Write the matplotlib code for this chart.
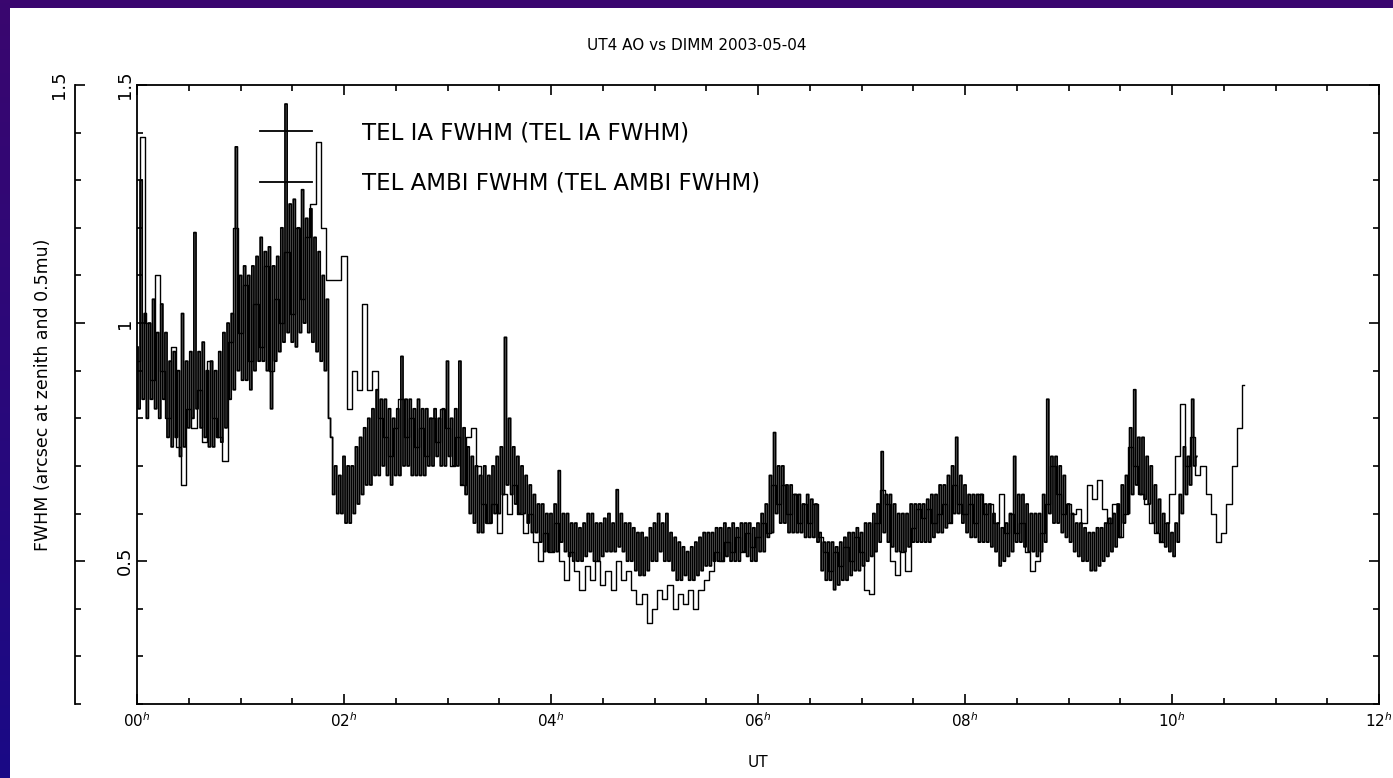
import numpy as np
import matplotlib
matplotlib.use("Agg")
import matplotlib.pyplot as plt
from matplotlib.ticker import MultipleLocator, FixedLocator, FixedFormatter
from matplotlib.colors import LinearSegmentedColormap

# ---------------- data ----------------
title = "UT4 AO vs DIMM 2003-05-04"
xlabel = "UT"
ylabel = "FWHM (arcsec at zenith and 0.5mu)"
series_names = ["TEL IA FWHM (TEL IA FWHM)", "TEL AMBI FWHM (TEL AMBI FWHM)"]

x_major_hours = [0, 2, 4, 6, 8, 10, 12]
x_tick_labels = ["00$^{h}$", "02$^{h}$", "04$^{h}$", "06$^{h}$", "08$^{h}$", "10$^{h}$", "12$^{h}$"]
y_major = [0.5, 1.0, 1.5]
y_tick_labels = ["0.5", "1", "1.5"]

# TEL IA FWHM, sampled every 0.02 h starting at 00h (one row = 0.4 h)
ia_step_h = 0.02
ia_fwhm = [
    0.95, 0.82, 1.30, 0.84, 1.02, 0.80, 1.00, 0.84, 1.05, 0.82, 0.98, 0.80, 1.04, 0.84, 0.98, 0.76, 0.92, 0.74, 0.94, 0.76,
    0.90, 0.72, 1.02, 0.74, 0.92, 0.78, 0.94, 0.80, 1.19, 0.82, 0.94, 0.78, 0.96, 0.76, 0.90, 0.74, 0.92, 0.74, 0.90, 0.76,
    0.94, 0.75, 0.98, 0.78, 1.00, 0.84, 1.02, 0.86, 1.37, 0.90, 1.10, 0.88, 1.12, 0.88, 1.10, 0.86, 1.12, 0.90, 1.14, 0.92,
    1.18, 0.92, 1.15, 0.90, 1.16, 0.82, 1.12, 0.92, 1.14, 0.94, 1.20, 0.96, 1.46, 0.98, 1.25, 0.96, 1.26, 0.95, 1.20, 0.98,
    1.28, 1.00, 1.22, 0.98, 1.24, 0.96, 1.18, 0.94, 1.15, 0.92, 1.10, 0.90, 1.05, 0.80, 0.76, 0.64, 0.70, 0.60, 0.68, 0.60,
    0.72, 0.58, 0.70, 0.58, 0.70, 0.60, 0.74, 0.62, 0.76, 0.64, 0.78, 0.66, 0.80, 0.66, 0.82, 0.68, 0.86, 0.68, 0.84, 0.70,
    0.84, 0.68, 0.82, 0.66, 0.80, 0.68, 0.82, 0.68, 0.93, 0.70, 0.84, 0.70, 0.84, 0.68, 0.82, 0.68, 0.84, 0.68, 0.82, 0.68,
    0.82, 0.70, 0.80, 0.70, 0.82, 0.72, 0.80, 0.70, 0.82, 0.70, 0.92, 0.72, 0.80, 0.70, 0.82, 0.70, 0.92, 0.66, 0.78, 0.64,
    0.74, 0.60, 0.72, 0.58, 0.70, 0.56, 0.68, 0.56, 0.70, 0.58, 0.68, 0.58, 0.70, 0.60, 0.72, 0.60, 0.74, 0.64, 0.97, 0.66,
    0.80, 0.64, 0.74, 0.62, 0.72, 0.60, 0.70, 0.60, 0.68, 0.58, 0.66, 0.56, 0.64, 0.56, 0.62, 0.54, 0.62, 0.52, 0.60, 0.52,
    0.60, 0.52, 0.62, 0.52, 0.69, 0.54, 0.60, 0.52, 0.60, 0.51, 0.58, 0.50, 0.58, 0.50, 0.57, 0.50, 0.58, 0.51, 0.60, 0.52,
    0.60, 0.50, 0.58, 0.50, 0.58, 0.51, 0.59, 0.52, 0.60, 0.52, 0.58, 0.52, 0.65, 0.53, 0.60, 0.52, 0.58, 0.50, 0.58, 0.50,
    0.57, 0.48, 0.56, 0.47, 0.56, 0.47, 0.55, 0.48, 0.57, 0.50, 0.58, 0.50, 0.60, 0.52, 0.58, 0.50, 0.60, 0.50, 0.56, 0.48,
    0.55, 0.46, 0.54, 0.46, 0.53, 0.47, 0.52, 0.46, 0.53, 0.46, 0.54, 0.47, 0.55, 0.48, 0.56, 0.49, 0.56, 0.49, 0.56, 0.50,
    0.57, 0.50, 0.57, 0.50, 0.58, 0.51, 0.57, 0.50, 0.58, 0.50, 0.57, 0.50, 0.58, 0.52, 0.58, 0.51, 0.58, 0.50, 0.57, 0.50,
    0.58, 0.52, 0.60, 0.52, 0.62, 0.55, 0.68, 0.56, 0.77, 0.60, 0.70, 0.58, 0.70, 0.58, 0.66, 0.56, 0.66, 0.56, 0.64, 0.56,
    0.64, 0.56, 0.62, 0.55, 0.64, 0.55, 0.63, 0.55, 0.62, 0.54, 0.56, 0.48, 0.54, 0.46, 0.54, 0.46, 0.54, 0.44, 0.53, 0.45,
    0.54, 0.46, 0.55, 0.46, 0.56, 0.47, 0.56, 0.48, 0.57, 0.48, 0.56, 0.49, 0.58, 0.50, 0.58, 0.51, 0.60, 0.52, 0.62, 0.54,
    0.73, 0.56, 0.64, 0.54, 0.64, 0.53, 0.62, 0.52, 0.60, 0.52, 0.60, 0.52, 0.60, 0.53, 0.62, 0.54, 0.62, 0.54, 0.62, 0.54,
    0.62, 0.54, 0.63, 0.54, 0.64, 0.55, 0.64, 0.56, 0.66, 0.56, 0.66, 0.57, 0.68, 0.58, 0.70, 0.60, 0.76, 0.60, 0.68, 0.58,
    0.66, 0.56, 0.64, 0.55, 0.64, 0.55, 0.64, 0.54, 0.64, 0.54, 0.62, 0.54, 0.62, 0.53, 0.60, 0.52, 0.58, 0.49, 0.57, 0.50,
    0.58, 0.51, 0.60, 0.52, 0.72, 0.54, 0.64, 0.54, 0.64, 0.53, 0.62, 0.52, 0.60, 0.52, 0.60, 0.51, 0.60, 0.52, 0.64, 0.54,
    0.84, 0.60, 0.72, 0.58, 0.72, 0.58, 0.70, 0.56, 0.68, 0.55, 0.62, 0.54, 0.60, 0.52, 0.58, 0.51, 0.58, 0.50, 0.57, 0.50,
    0.56, 0.48, 0.56, 0.48, 0.57, 0.49, 0.57, 0.50, 0.58, 0.51, 0.59, 0.52, 0.60, 0.53, 0.62, 0.55, 0.66, 0.58, 0.68, 0.60,
    0.78, 0.64, 0.86, 0.66, 0.76, 0.64, 0.76, 0.63, 0.72, 0.62, 0.70, 0.58, 0.66, 0.56, 0.63, 0.54, 0.60, 0.53, 0.58, 0.52,
    0.56, 0.51, 0.58, 0.54, 0.64, 0.60, 0.74, 0.64, 0.72, 0.66, 0.84, 0.70, 0.72,
]

# TEL AMBI FWHM, sampled every 0.05 h starting at 00h (one row = 0.5 h)
ambi_step_h = 0.05
ambi_fwhm = [
    0.92, 1.39, 1.00, 0.88, 1.10, 0.90, 0.80, 0.95, 0.74, 0.66,
    0.82, 0.78, 0.86, 0.75, 0.92, 0.80, 0.76, 0.71, 0.96, 1.20,
    0.98, 1.08, 0.92, 1.04, 0.95, 1.12, 0.90, 1.05, 1.00, 1.15,
    1.02, 1.20, 1.05, 1.18, 1.25, 1.38, 1.20, 1.09, 1.09, 1.09,
    1.14, 0.82, 0.90, 0.86, 1.04, 0.86, 0.90, 0.80, 0.76, 0.72,
    0.78, 0.84, 0.76, 0.80, 0.74, 0.78, 0.72, 0.80, 0.75, 0.82,
    0.78, 0.70, 0.76, 0.66, 0.76, 0.78, 0.70, 0.62, 0.58, 0.62,
    0.56, 0.64, 0.60, 0.66, 0.60, 0.56, 0.60, 0.54, 0.50, 0.56,
    0.52, 0.58, 0.50, 0.46, 0.52, 0.48, 0.44, 0.49, 0.46, 0.50,
    0.45, 0.48, 0.44, 0.50, 0.46, 0.48, 0.44, 0.41, 0.43, 0.37,
    0.40, 0.44, 0.42, 0.45, 0.40, 0.43, 0.41, 0.44, 0.40, 0.44,
    0.46, 0.48, 0.52, 0.50, 0.54, 0.52, 0.55, 0.52, 0.56, 0.53,
    0.55, 0.58, 0.56, 0.66, 0.62, 0.66, 0.60, 0.64, 0.58, 0.62,
    0.58, 0.62, 0.55, 0.52, 0.48, 0.52, 0.49, 0.53, 0.50, 0.55,
    0.52, 0.44, 0.43, 0.58, 0.65, 0.62, 0.50, 0.47, 0.52, 0.48,
    0.57, 0.61, 0.59, 0.61, 0.58, 0.60, 0.62, 0.58, 0.66, 0.62,
    0.60, 0.62, 0.58, 0.64, 0.60, 0.62, 0.58, 0.64, 0.56, 0.60,
    0.56, 0.58, 0.52, 0.48, 0.50, 0.56, 0.62, 0.70, 0.64, 0.60,
    0.62, 0.60, 0.61, 0.58, 0.66, 0.63, 0.67, 0.61, 0.58, 0.62,
    0.55, 0.60, 0.74, 0.70, 0.64, 0.62, 0.58, 0.56, 0.54, 0.58,
    0.64, 0.72, 0.83, 0.70, 0.76, 0.68, 0.70, 0.64, 0.60, 0.54,
    0.56, 0.62, 0.70, 0.78, 0.87,
]

# ---------------- figure ----------------
W, H = 1393, 778
fig = plt.figure(figsize=(W / 100, H / 100), dpi=100)
fig.patch.set_facecolor("white")
plt.rcParams["font.family"] = ["DejaVu Sans"]


def fx(px):
    return px / W


def fy(py):
    return 1 - py / H


# slide-style border: purple band on top, purple->blue band on the left
top_band = fig.add_axes([0, fy(8), 1, 8 / H])
top_band.set_axis_off()
top_band.add_patch(plt.Rectangle((0, 0), 1, 1, color="#3a066f", transform=top_band.transAxes))
left_band = fig.add_axes([0, 0, fx(10), 1])
left_band.set_axis_off()
grad = np.linspace(0, 1, 256).reshape(-1, 1)
cm = LinearSegmentedColormap.from_list("bd", ["#3a066f", "#1a0a86"])
left_band.imshow(grad, aspect="auto", cmap=cm, extent=[0, 1, 0, 1], origin="upper")

# main axes
ax = fig.add_axes([fx(137), fy(704), fx(1379) - fx(137), fy(85) - fy(704)])
t_ia = np.arange(len(ia_fwhm)) * ia_step_h
t_ambi = np.arange(len(ambi_fwhm)) * ambi_step_h
l1, = ax.plot(t_ia, ia_fwhm, drawstyle="steps-mid", color="black", lw=1.3)
l2, = ax.plot(t_ambi, ambi_fwhm, drawstyle="steps-mid", color="black", lw=1.0)

ax.set_xlim(0, 12)
ax.set_ylim(0.2, 1.5)
ax.xaxis.set_major_locator(FixedLocator(x_major_hours))
ax.xaxis.set_major_formatter(FixedFormatter(x_tick_labels))
ax.xaxis.set_minor_locator(MultipleLocator(0.5))
ax.yaxis.set_major_locator(FixedLocator(y_major))
ax.yaxis.set_major_formatter(FixedFormatter(y_tick_labels))
ax.yaxis.set_minor_locator(MultipleLocator(0.1))
ax.tick_params(which="both", direction="in", top=True, right=True, width=1.2, color="black")
ax.tick_params(which="major", length=7)
ax.tick_params(which="minor", length=4)
ax.tick_params(axis="x", labelsize=11, pad=5)
ax.tick_params(axis="y", labelsize=13, pad=2)
for lab in ax.get_yticklabels():
    lab.set_rotation(90)
    lab.set_va("center")
for s in ax.spines.values():
    s.set_linewidth(1.3)

ax.set_xlabel(xlabel, fontsize=11, labelpad=18)
ax.set_ylabel(ylabel, fontsize=12.5)
ax.yaxis.set_label_coords((52 - 137) / (1379 - 137), 0.5)
fig.text(0.5, fy(45), title, ha="center", va="center", fontsize=11)

leg = ax.legend([l1, l2], series_names, loc="upper left",
                bbox_to_anchor=(fx(260), fy(121)), bbox_transform=fig.transFigure,
                frameon=False, fontsize=16.5, handlelength=2.27, handletextpad=2.18,
                labelspacing=1.22, borderpad=0, borderaxespad=0)
for h in leg.legend_handles:
    h.set_linewidth(1.3)

# ghost duplicate y axis on the far left
gax = fig.add_axes([fx(75), fy(704), 0.0002, fy(85) - fy(704)])
gax.patch.set_visible(False)
for k in ["top", "right", "bottom"]:
    gax.spines[k].set_visible(False)
gax.spines["left"].set_linewidth(1.3)
gax.set_ylim(0.2, 1.5)
gax.set_xticks([])
gax.yaxis.set_major_locator(FixedLocator(y_major))
gax.yaxis.set_major_formatter(FixedFormatter(["", "", "1.5"]))
gax.yaxis.set_minor_locator(MultipleLocator(0.1))
gax.tick_params(which="both", direction="in", width=1.2, labelsize=13, pad=5)
gax.tick_params(which="major", length=7)
gax.tick_params(which="minor", length=4)
for lab in gax.get_yticklabels():
    lab.set_rotation(90)
    lab.set_va("center")

fig.savefig("out.png", dpi=100, facecolor=fig.get_facecolor())
